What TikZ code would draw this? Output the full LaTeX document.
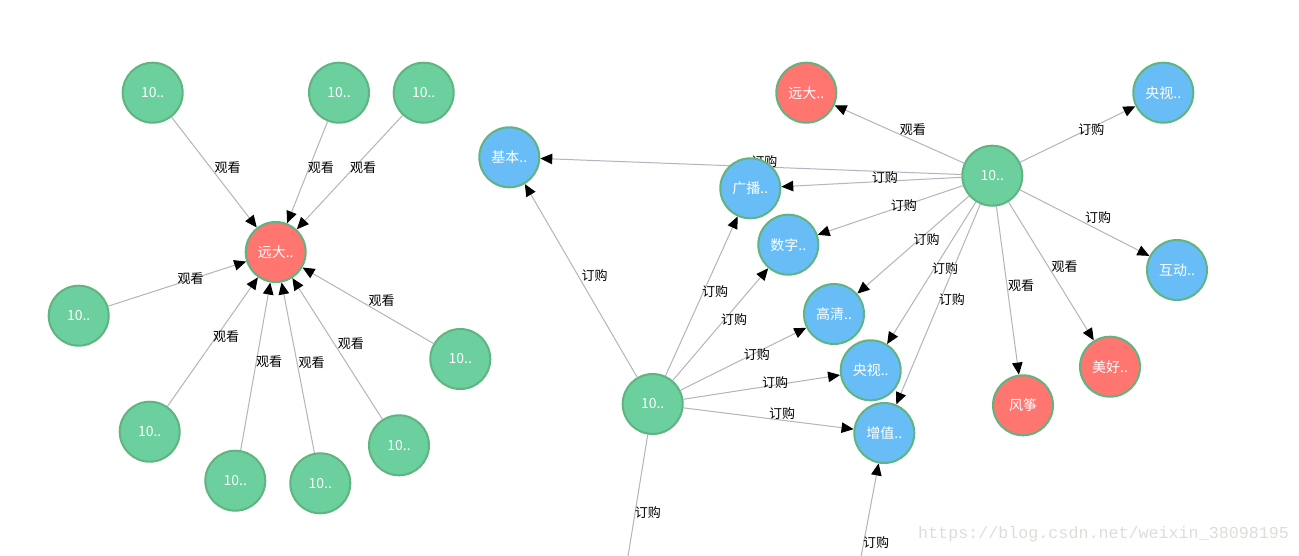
\documentclass[tikz,border=0pt]{standalone}
\usepackage{fontspec}
\setmainfont{Noto Sans CJK SC}
\newfontfamily\wmfont{Liberation Mono}
\usetikzlibrary{arrows.meta}
\pgfdeclarelayer{back}
\pgfdeclarelayer{bg}
\pgfsetlayers{back,bg,main}
\definecolor{gfill}{RGB}{108,207,158}
\definecolor{rfill}{RGB}{255,117,112}
\definecolor{bfill}{RGB}{104,189,246}
\definecolor{nstroke}{RGB}{96,180,128}
\definecolor{ecol}{RGB}{178,180,192}
\definecolor{wmcol}{RGB}{222,222,216}
\tikzset{
  nd/.style={circle, minimum size=60pt, inner sep=0pt, draw=nstroke, line width=2pt,
    text=white, font=\fontsize{14}{16}\selectfont},
  gn/.style={nd, fill=gfill},
  rn/.style={nd, fill=rfill},
  bn/.style={nd, fill=bfill},
  edge/.style={draw=ecol, line width=1pt, -{Triangle[length=12pt,width=10.5pt,color=black]}},
  plain/.style={draw=ecol, line width=1pt},
  lbl/.style={pos=0.5, anchor=base west, inner sep=0pt, text=black, font=\fontsize{13}{15}\selectfont}
}
\begin{document}
\begin{tikzpicture}[x=1pt,y=-1pt]
\useasboundingbox (0,0) rectangle (1299,555);
\clip (0,0) rectangle (1299,555);
\begin{pgfonlayer}{back}
\fill[white] (0,0) rectangle (1299,555);
\end{pgfonlayer}
% left cluster
\node[rn] (c) at (275.7,252) {远大..};
\node[gn] (l1) at (152.7,92.7) {10..};
\node[gn] (l2) at (339,92.7) {10..};
\node[gn] (l3) at (423.7,92.7) {10..};
\node[gn] (l4) at (78.7,315.7) {10..};
\node[gn] (l5) at (460.3,359) {10..};
\node[gn] (l6) at (149.7,431.7) {10..};
\node[gn] (l7) at (235.3,480.7) {10..};
\node[gn] (l8) at (320.3,483.3) {10..};
\node[gn] (l9) at (399,445.3) {10..};
% right graph
\node[gn] (h1) at (992.3,175.7) {10..};
\node[gn] (h2) at (652.7,404) {10..};
\node[rn] (r1) at (806.3,92.7) {远大..};
\node[rn] (r2) at (1023,405.3) {风筝};
\node[rn] (r3) at (1110,366.7) {美好..};
\node[bn] (b1) at (509.3,157.3) {基本..};
\node[bn] (b2) at (750.3,188.3) {广播..};
\node[bn] (b3) at (788.3,244.7) {数字..};
\node[bn] (b4) at (1163.3,92.7) {央视..};
\node[bn] (b5) at (1177,270) {互动..};
\node[bn] (b6) at (834,314) {高清..};
\node[bn] (b7) at (870.7,370.3) {央视..};
\node[bn] (b8) at (884.3,433) {增值..};
\coordinate (off1) at (620.9,600);
\coordinate (off2) at (846.8,632.5);
\begin{pgfonlayer}{bg}
\draw[edge] (l1) -- node[lbl]{观看} (c);
\draw[edge] (l2) -- node[lbl]{观看} (c);
\draw[edge] (l3) -- node[lbl]{观看} (c);
\draw[edge] (l4) -- node[lbl]{观看} (c);
\draw[edge] (l5) -- node[lbl]{观看} (c);
\draw[edge] (l6) -- node[lbl]{观看} (c);
\draw[edge] (l7) -- node[lbl]{观看} (c);
\draw[edge] (l8) -- node[lbl]{观看} (c);
\draw[edge] (l9) -- node[lbl]{观看} (c);
\draw[edge] (h1) -- node[lbl]{观看} (r1);
\draw[edge] (h1) -- node[lbl]{订购} (b4);
\draw[edge] (h1) -- node[lbl]{订购} (b5);
\draw[edge] (h1) -- node[lbl]{订购} (b1);
\draw[edge] (h1) -- node[lbl]{订购} (b2);
\draw[edge] (h1) -- node[lbl]{订购} (b3);
\draw[edge] (h1) -- node[lbl]{订购} (b6);
\draw[edge] (h1) -- node[lbl]{订购} (b7);
\draw[edge] (h1) -- node[lbl]{订购} (b8);
\draw[edge] (h1) -- node[lbl]{观看} (r2);
\draw[edge] (h1) -- node[lbl]{观看} (r3);
\draw[edge] (h2) -- node[lbl]{订购} (b1);
\draw[edge] (h2) -- node[lbl]{订购} (b2);
\draw[edge] (h2) -- node[lbl]{订购} (b3);
\draw[edge] (h2) -- node[lbl]{订购} (b6);
\draw[edge] (h2) -- node[lbl]{订购} (b7);
\draw[edge] (h2) -- node[lbl]{订购} (b8);
\draw[plain] (h2) -- node[lbl]{订购} (off1);
\draw[edge] (off2) -- node[lbl]{订购} (b8);
\end{pgfonlayer}
\node[anchor=west, inner sep=0pt, text=wmcol, font=\wmfont\fontsize{16.7}{18}\selectfont] (wm) at (918,534) {https://blog.csdn.net/weixin\_38098195};
\end{tikzpicture}
\end{document}
